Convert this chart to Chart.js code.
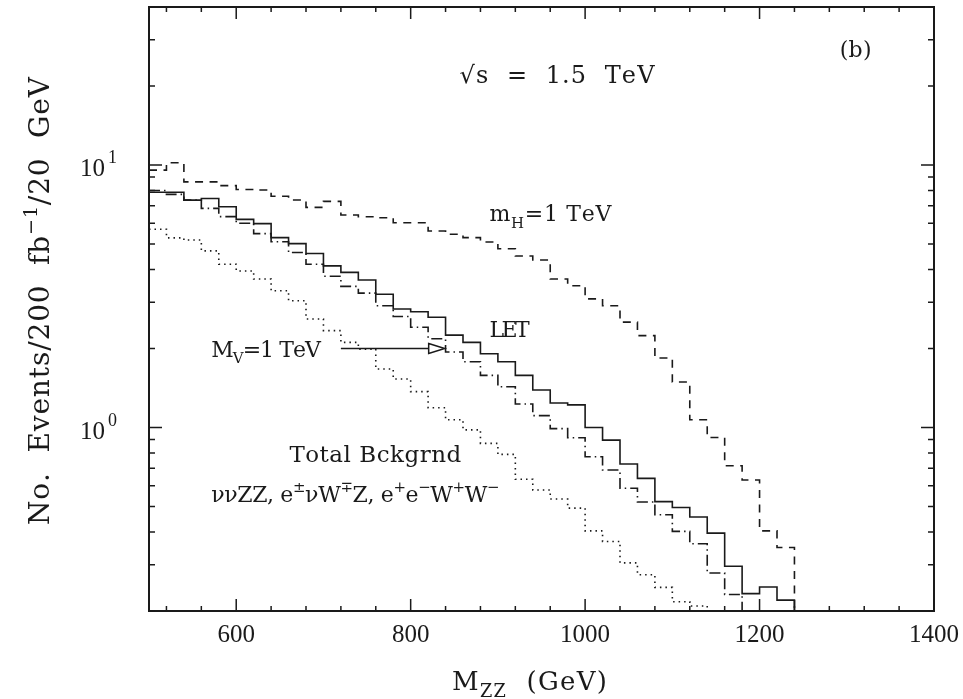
<!DOCTYPE html>
<html>
<head>
<meta charset="utf-8">
<script src="https://cdn.jsdelivr.net/npm/chart.js@4.4.1/dist/chart.umd.min.js"></script>
<style>
html,body{margin:0;padding:0;background:#ffffff;}
#wrap{width:963px;height:699px;position:relative;}
canvas{display:block;}
</style>
</head>
<body>
<div id="wrap"><canvas id="c" width="963" height="699"></canvas></div>
<script>
// ---- data ----
// left edges of the 20 GeV bins of M_ZZ (GeV), plus the closing edge
const binEdges = [500,520,540,560,580,600,620,640,660,680,700,720,740,760,780,800,820,840,860,880,
                  900,920,940,960,980,1000,1020,1040,1060,1080,1100,1120,1140,1160,1180,1200,1220,1240];
// LET (solid)  — last entry is the drop below the axis at the closing edge
const letEvents = [7.88,7.88,7.35,7.46,6.94,6.21,5.98,5.29,5.02,4.60,
                   4.13,3.90,3.65,3.22,2.83,2.76,2.63,2.25,2.11,1.91,
                   1.78,1.58,1.39,1.24,1.22,1.00,0.895,0.726,0.640,0.522,
                   0.496,0.456,0.396,0.296,0.233,0.247,0.220,0.1];
// m_H = 1 TeV (dashed)
const higgsEvents = [9.56,10.2,8.63,8.63,8.35,8.07,8.03,7.60,7.36,6.90,
                     7.27,6.45,6.35,6.30,6.03,6.03,5.61,5.45,5.29,5.09,
                     4.80,4.50,4.35,3.68,3.47,3.09,2.91,2.52,2.24,1.84,
                     1.49,1.07,0.916,0.715,0.631,0.404,0.349,0.1];
// M_V = 1 TeV (dash-dot)
const vectorEvents = [8.00,7.73,7.35,6.84,6.36,6.00,5.48,5.10,4.64,4.19,
                      3.77,3.45,3.25,2.91,2.65,2.41,2.18,1.94,1.78,1.58,
                      1.43,1.23,1.11,0.99,0.914,0.774,0.689,0.587,0.520,0.465,
                      0.402,0.361,0.279,0.231,0.15];
// Total background (dotted)
const bkgEvents = [5.69,5.28,5.18,4.71,4.19,3.95,3.68,3.32,3.04,2.59,
                   2.34,2.11,1.99,1.67,1.53,1.37,1.19,1.07,0.98,0.87,
                   0.79,0.635,0.578,0.534,0.493,0.404,0.368,0.305,0.275,0.246,
                   0.217,0.209,0.15];

// axis ticks
const xTickValues = [520,560,600,640,680,720,760,800,840,880,920,960,1000,1040,1080,1120,1160,1200,1240,1280,1320,1360,1400];
const xLabelValues = [600,800,1000,1200,1400];
const yTickValues = [0.2,0.3,0.4,0.5,0.6,0.7,0.8,0.9,1,2,3,4,5,6,7,8,9,10,20,30,40];
const yLabelExponents = [0,1];

// text annotations: span [x, x2] and baseline y in data coordinates
const annotations = [
  {x:856,  x2:1079.6, y:20.6,  size:24, segs:[{t:'\u221As  =  1.5  TeV'}]},
  {x:1292, x2:1328.3, y:25.8,  size:22, segs:[{t:'(b)'}]},
  {x:890.4,x2:1030,   y:6.10,  size:22, segs:[{t:'m'},{t:'H',sub:true},{t:'=1 TeV'}]},
  {x:890.4,x2:936.3,  y:2.21,  size:22, segs:[{t:'LET'}]},
  {x:571.3,x2:697.1,  y:1.86,  size:22, segs:[{t:'M'},{t:'V',sub:true},{t:'=1 TeV'}]},
  {x:661,  x2:858,    y:0.741, size:23, segs:[{t:'Total Bckgrnd'}]},
  {x:571.3,x2:901.9,  y:0.522, size:22, segs:[{t:'\u03BD\u03BDZZ, e'},{t:'\u00B1',sup:true},{t:'\u03BDW'},{t:'\u2213',sup:true},{t:'Z, e'},{t:'+',sup:true},{t:'e'},{t:'\u2212',sup:true},{t:'W'},{t:'+',sup:true},{t:'W'},{t:'\u2212',sup:true}]}
];
const arrowFrom = {x:720, y:2.0};
const arrowTo = {x:839, y:2.0};

const INK = '#1a1a1a';
const TEXT_FONT = '"DejaVu Serif", serif';
const NUM_FONT = '"Liberation Serif", serif';

function pts(vals){ return vals.map((v,i)=>({x:binEdges[i], y:v})); }

// draw rich text (sub/superscripts) stretched to span [x0, x1] on baseline y
function drawFit(ctx, segs, x0, x1, y, size, fam){
  const items = [];
  segs.forEach(s=>{
    const fs = (s.sup||s.sub) ? size*0.68 : size;
    const dy = s.sup ? -size*0.42 : (s.sub ? size*0.28 : 0);
    ctx.font = fs+'px '+fam;
    for (const ch of s.t) items.push({ch, fs, dy, w:ctx.measureText(ch).width});
  });
  const natural = items.reduce((a,b)=>a+b.w, 0);
  const gap = items.length>1 ? ((x1-x0)-natural)/(items.length-1) : 0;
  ctx.textAlign='left'; ctx.textBaseline='alphabetic';
  let cx = x0;
  items.forEach(it=>{
    ctx.font = it.fs+'px '+fam;
    ctx.fillText(it.ch, cx, y+it.dy);
    cx += it.w + gap;
  });
}

const decorPlugin = {
  id:'decor',
  afterDatasetsDraw(chart){
    const {ctx, chartArea:a, scales:{x, y}} = chart;
    ctx.save();
    ctx.strokeStyle = INK; ctx.fillStyle = INK;
    // frame
    ctx.lineWidth = 2;
    ctx.strokeRect(a.left, a.top, a.right-a.left, a.bottom-a.top);
    // ticks (inward, on all four sides)
    ctx.lineWidth = 1.5;
    ctx.beginPath();
    xTickValues.forEach(v=>{
      const px = x.getPixelForValue(v);
      const L = xLabelValues.includes(v) ? 12 : 5;
      ctx.moveTo(px, a.bottom); ctx.lineTo(px, a.bottom-L);
      ctx.moveTo(px, a.top); ctx.lineTo(px, a.top+L);
    });
    yTickValues.forEach(v=>{
      const py = y.getPixelForValue(v);
      const major = yLabelExponents.some(e=>Math.abs(Math.pow(10,e)-v)<1e-9);
      const L = major ? 13 : 6;
      ctx.moveTo(a.left, py); ctx.lineTo(a.left+L, py);
      ctx.moveTo(a.right, py); ctx.lineTo(a.right-L, py);
    });
    ctx.stroke();
    // y tick labels 10^n
    yLabelExponents.forEach(e=>{
      const py = y.getPixelForValue(Math.pow(10,e));
      ctx.font = '25px '+NUM_FONT;
      ctx.textAlign='right'; ctx.textBaseline='alphabetic';
      ctx.fillText('10', 105, py+11);
      ctx.font = '18px '+NUM_FONT;
      ctx.textAlign='left';
      ctx.fillText(String(e), 108, py-2);
    });
    // annotations
    annotations.forEach(an=>{
      drawFit(ctx, an.segs, x.getPixelForValue(an.x), x.getPixelForValue(an.x2), y.getPixelForValue(an.y), an.size, TEXT_FONT);
    });
    // arrow with open head
    const x0 = x.getPixelForValue(arrowFrom.x), y0 = y.getPixelForValue(arrowFrom.y);
    const x1 = x.getPixelForValue(arrowTo.x), y1 = y.getPixelForValue(arrowTo.y);
    ctx.lineWidth = 1.5;
    ctx.beginPath(); ctx.moveTo(x0,y0); ctx.lineTo(x1-16,y1); ctx.stroke();
    ctx.beginPath(); ctx.moveTo(x1-16,y1-5); ctx.lineTo(x1,y1); ctx.lineTo(x1-16,y1+5); ctx.closePath(); ctx.stroke();
    // axis titles
    drawFit(ctx, [{t:'M'},{t:'ZZ',sub:true},{t:'  (GeV)'}], 452, 607, 690, 26, TEXT_FONT);
    ctx.save();
    ctx.translate(49, 301);
    ctx.rotate(-Math.PI/2);
    drawFit(ctx, [{t:'No.  Events/200  fb'},{t:'\u22121',sup:true},{t:'/20  GeV'}], -224, 224, 0, 28, TEXT_FONT);
    ctx.restore();
    ctx.restore();
  }
};

const common = {borderColor:INK, borderWidth:1.6, pointRadius:0, fill:false, stepped:true, tension:0};
new Chart(document.getElementById('c'), {
  type:'line',
  data:{datasets:[
    Object.assign({label:'LET', data:pts(letEvents)}, common),
    Object.assign({label:'m_H = 1 TeV', data:pts(higgsEvents), borderDash:[8,6.5]}, common),
    Object.assign({label:'M_V = 1 TeV', data:pts(vectorEvents), borderDash:[11,4,1.5,4]}, common),
    Object.assign({label:'Total Bckgrnd', data:pts(bkgEvents), borderDash:[1.5,4]}, common)
  ]},
  options:{
    responsive:false, animation:false, devicePixelRatio:1,
    layout:{padding:{top:7, right:29, left:0, bottom:0}},
    plugins:{legend:{display:false}, tooltip:{enabled:false}},
    scales:{
      x:{type:'linear', min:500, max:1400,
         grid:{display:false, drawTicks:false}, border:{display:false},
         afterBuildTicks:s=>{ s.ticks = xTickValues.map(v=>({value:v})); },
         afterFit:s=>{ s.height = 88; s.paddingLeft = 0; s.paddingRight = 0; },
         ticks:{autoSkip:false, maxRotation:0, padding:9, color:INK,
                font:{family:'Liberation Serif', size:25},
                callback:v=> xLabelValues.includes(v) ? String(v) : ''}},
      y:{type:'logarithmic', min:0.2, max:40,
         grid:{display:false, drawTicks:false}, border:{display:false},
         afterBuildTicks:s=>{ s.ticks = yTickValues.map(v=>({value:v})); },
         afterFit:s=>{ s.width = 149; s.paddingTop = 0; s.paddingBottom = 0; },
         ticks:{display:false}}
    }
  },
  plugins:[decorPlugin]
});
</script>
</body>
</html>
